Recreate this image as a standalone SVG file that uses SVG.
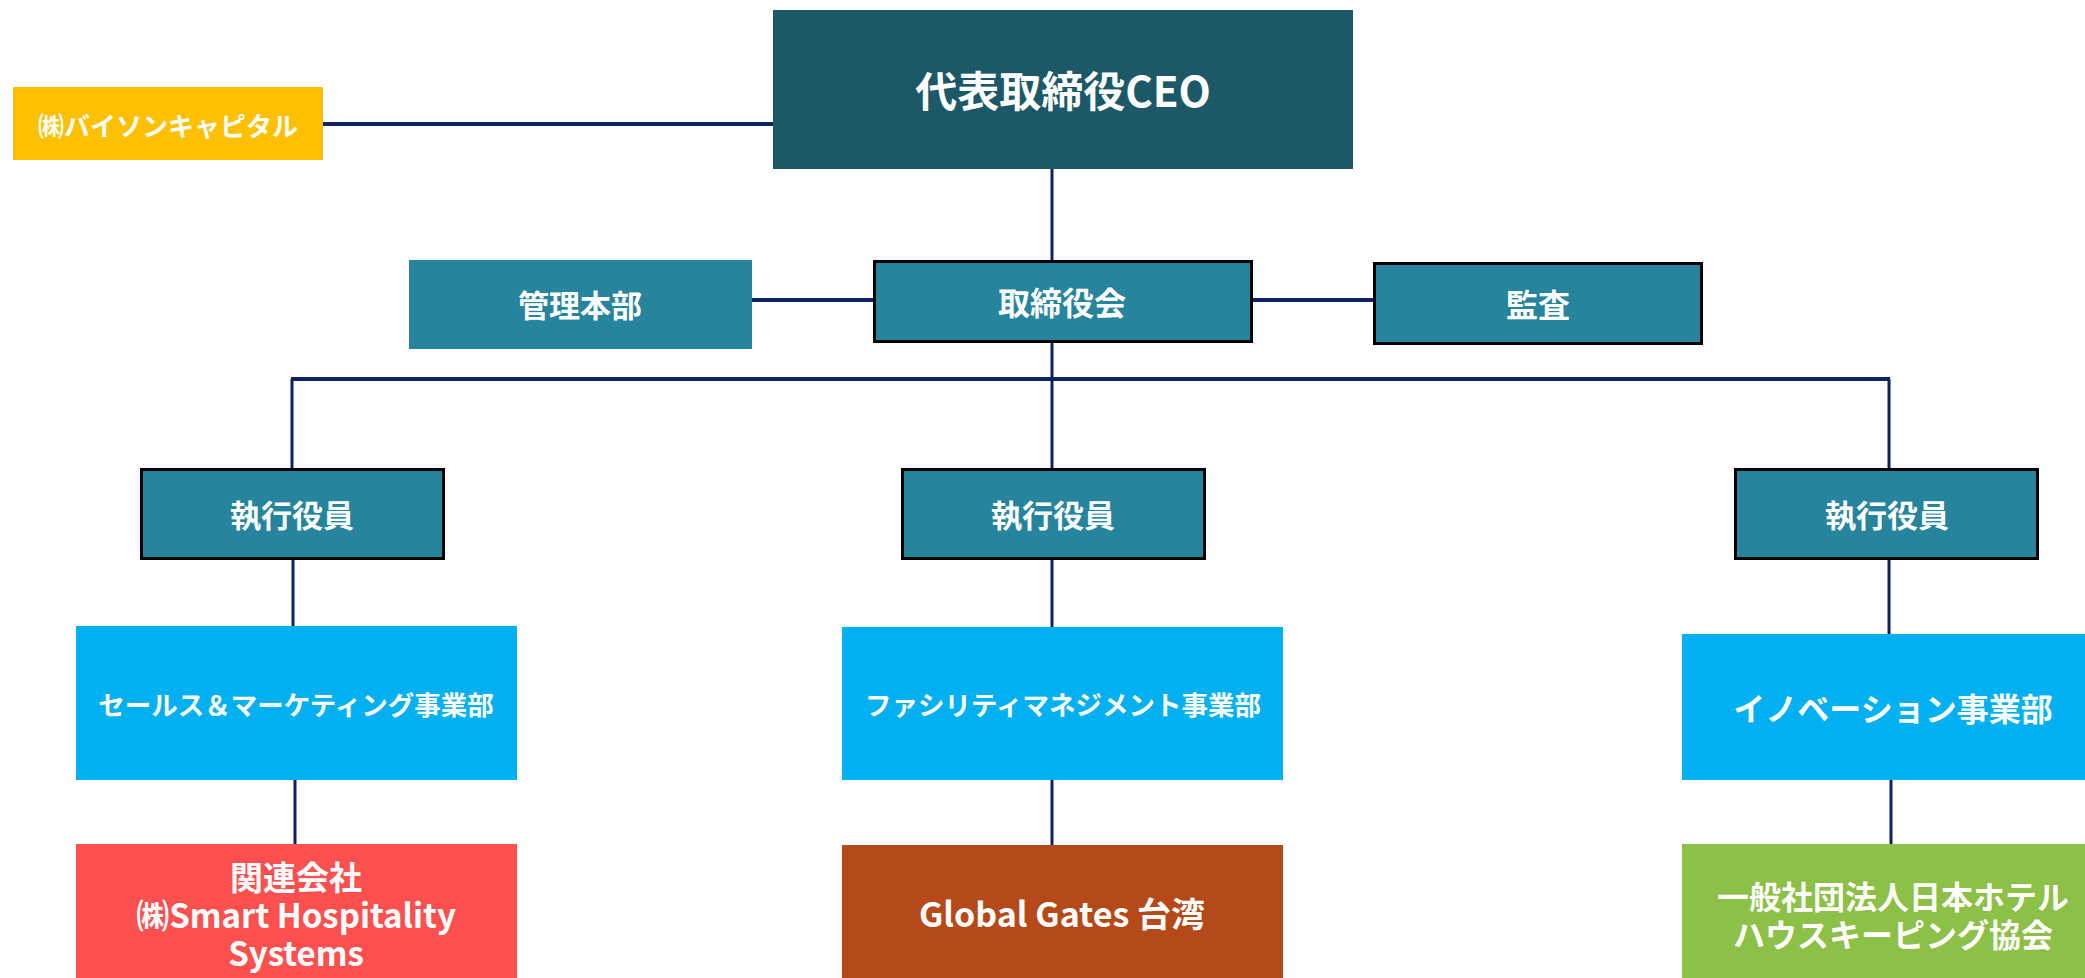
<svg xmlns="http://www.w3.org/2000/svg" width="2085" height="978" viewBox="0 0 2085 978">
<style>
.t{font-family:"Noto Sans CJK JP","Noto Sans",sans-serif;font-weight:bold;fill:#fff;text-anchor:middle;dominant-baseline:central}
.ln{stroke:#0E2260;stroke-width:3;fill:none}
.lt{stroke:#0E2260;stroke-width:4;fill:none}
.teal{fill:#26849D}
.bd{stroke:#000;stroke-width:3}
.blue{fill:#00B0F0}
</style>
<rect width="2085" height="978" fill="#fff"/>
<g id="connectors">
<line class="lt" x1="323" y1="124" x2="773" y2="124"/>
<line class="ln" x1="1052" y1="169" x2="1052" y2="260"/>
<line class="lt" x1="752" y1="300" x2="873" y2="300"/>
<line class="lt" x1="1252" y1="300" x2="1374" y2="300"/>
<line class="ln" x1="1052" y1="343" x2="1052" y2="468"/>
<line class="lt" x1="291" y1="379" x2="1890" y2="379"/>
<line class="ln" x1="292" y1="379" x2="292" y2="468"/>
<line class="ln" x1="1889" y1="379" x2="1889" y2="468"/>
<line class="ln" x1="293" y1="559" x2="293" y2="626"/>
<line class="ln" x1="1052" y1="559" x2="1052" y2="627"/>
<line class="ln" x1="1889" y1="559" x2="1889" y2="634"/>
<line class="ln" x1="295" y1="780" x2="295" y2="844"/>
<line class="ln" x1="1052" y1="780" x2="1052" y2="845"/>
<line class="ln" x1="1891" y1="780" x2="1891" y2="844"/>
</g>
<g id="ceo">
<rect x="773" y="10" width="580" height="159" fill="#1C5868"/>
<text class="t" x="1063" y="88" font-size="42">代表取締役CEO</text>
</g>
<g id="bison">
<rect x="13" y="87" width="310" height="73" fill="#FFC000"/>
<text class="t" x="168" y="124" font-size="26">㈱バイソンキャピタル</text>
</g>
<g id="kanri">
<rect x="409" y="260" width="343" height="89" class="teal"/>
<text class="t" x="580" y="303" font-size="31">管理本部</text>
</g>
<g id="board">
<rect x="874.5" y="261.5" width="377" height="80" class="teal bd"/>
<text class="t" x="1062" y="301" font-size="32">取締役会</text>
</g>
<g id="audit">
<rect x="1374.5" y="263.5" width="327" height="80" class="teal bd"/>
<text class="t" x="1538" y="303" font-size="32">監査</text>
</g>
<g id="exec-left">
<rect x="141.5" y="469.5" width="302" height="89" class="teal bd"/>
<text class="t" x="292" y="513" font-size="31">執行役員</text>
</g>
<g id="exec-center">
<rect x="902.5" y="469.5" width="302" height="89" class="teal bd"/>
<text class="t" x="1053" y="513" font-size="31">執行役員</text>
</g>
<g id="exec-right">
<rect x="1735.5" y="469.5" width="302" height="89" class="teal bd"/>
<text class="t" x="1887" y="513" font-size="31">執行役員</text>
</g>
<g id="sales">
<rect x="76" y="626" width="441" height="154" class="blue"/>
<text class="t" x="296" y="703" font-size="26.5">セールス＆マーケティング事業部</text>
</g>
<g id="fm">
<rect x="842" y="627" width="441" height="153" class="blue"/>
<text class="t" x="1063" y="703" font-size="26.5">ファシリティマネジメント事業部</text>
</g>
<g id="innovation">
<rect x="1682" y="634" width="420" height="146" class="blue"/>
<text class="t" x="1893" y="707" font-size="32">イノベーション事業部</text>
</g>
<g id="shs">
<rect x="76" y="844" width="441" height="140" fill="#FF5050"/>
<text class="t" font-size="33"><tspan x="296" y="876">関連会社</tspan><tspan x="296" y="914">㈱Smart Hospitality</tspan><tspan x="296" y="952">Systems</tspan></text>
</g>
<g id="gg">
<rect x="842" y="845" width="441" height="140" fill="#B5491A"/>
<text class="t" x="1062" y="912" font-size="34">Global Gates 台湾</text>
</g>
<g id="jhha">
<rect x="1682" y="844" width="420" height="140" fill="#8CC046"/>
<text class="t" font-size="32"><tspan x="1893" y="895">一般社団法人日本ホテル</tspan><tspan x="1893" y="933">ハウスキーピング協会</tspan></text>
</g>
</svg>
